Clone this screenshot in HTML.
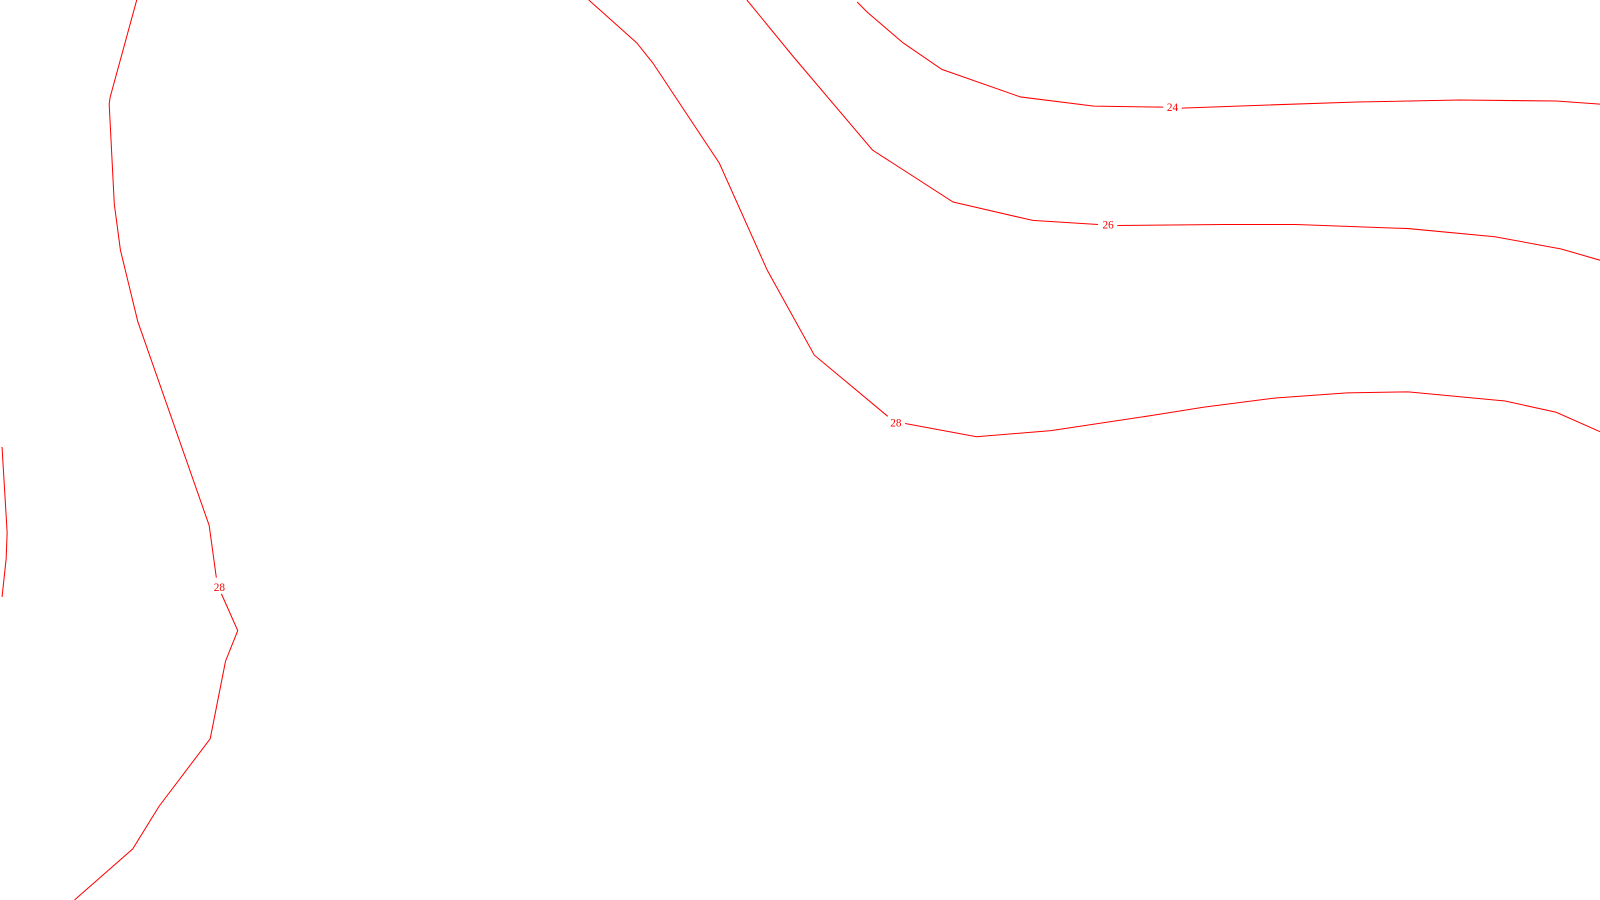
<!DOCTYPE html>
<html><head><meta charset="utf-8"><style>
html,body{margin:0;padding:0;background:#fff;width:1600px;height:900px;overflow:hidden}
svg{display:block}
text{font-family:"Liberation Serif",serif;font-size:11px;fill:#f00}
</style></head><body>
<svg width="1600" height="900" viewBox="0 0 1568 882" preserveAspectRatio="none">
<g fill="none" stroke="#ff0000" stroke-width="1">
<polyline points="134,0 108,95 107,102 112,200 118,245 135,315 205,515 212,566"/>
<polyline points="217,582 233,618 221,648 206,724 156,790 130,832 73,882"/>
<polyline points="2,438 7,522 6,548 2,585"/>
<polyline points="577,0 624,42 640,62 705,160 752,265 798,348 870,408"/>
<polyline points="887,415 957,428 1030,422 1130,407 1180,399 1250,390 1320,385 1380,384 1475,393 1525,404 1568,423"/>
<polyline points="732,0 777,55 855,147 934,198 1012,216 1076,220"/>
<polyline points="1095,221 1200,220 1270,220 1380,224 1465,232 1530,244 1568,255"/>
<polyline points="840,2 850,12 885,42 923,68 1000,95 1072,104 1140,105"/>
<polyline points="1158,106 1240,103 1330,100 1430,98 1525,99 1568,102"/>
</g>
<text x="215" y="579" text-anchor="middle">28</text>
<text x="878" y="418" text-anchor="middle">28</text>
<text x="1086" y="224" text-anchor="middle">26</text>
<text x="1149" y="109" text-anchor="middle">24</text>
</svg>
</body></html>
